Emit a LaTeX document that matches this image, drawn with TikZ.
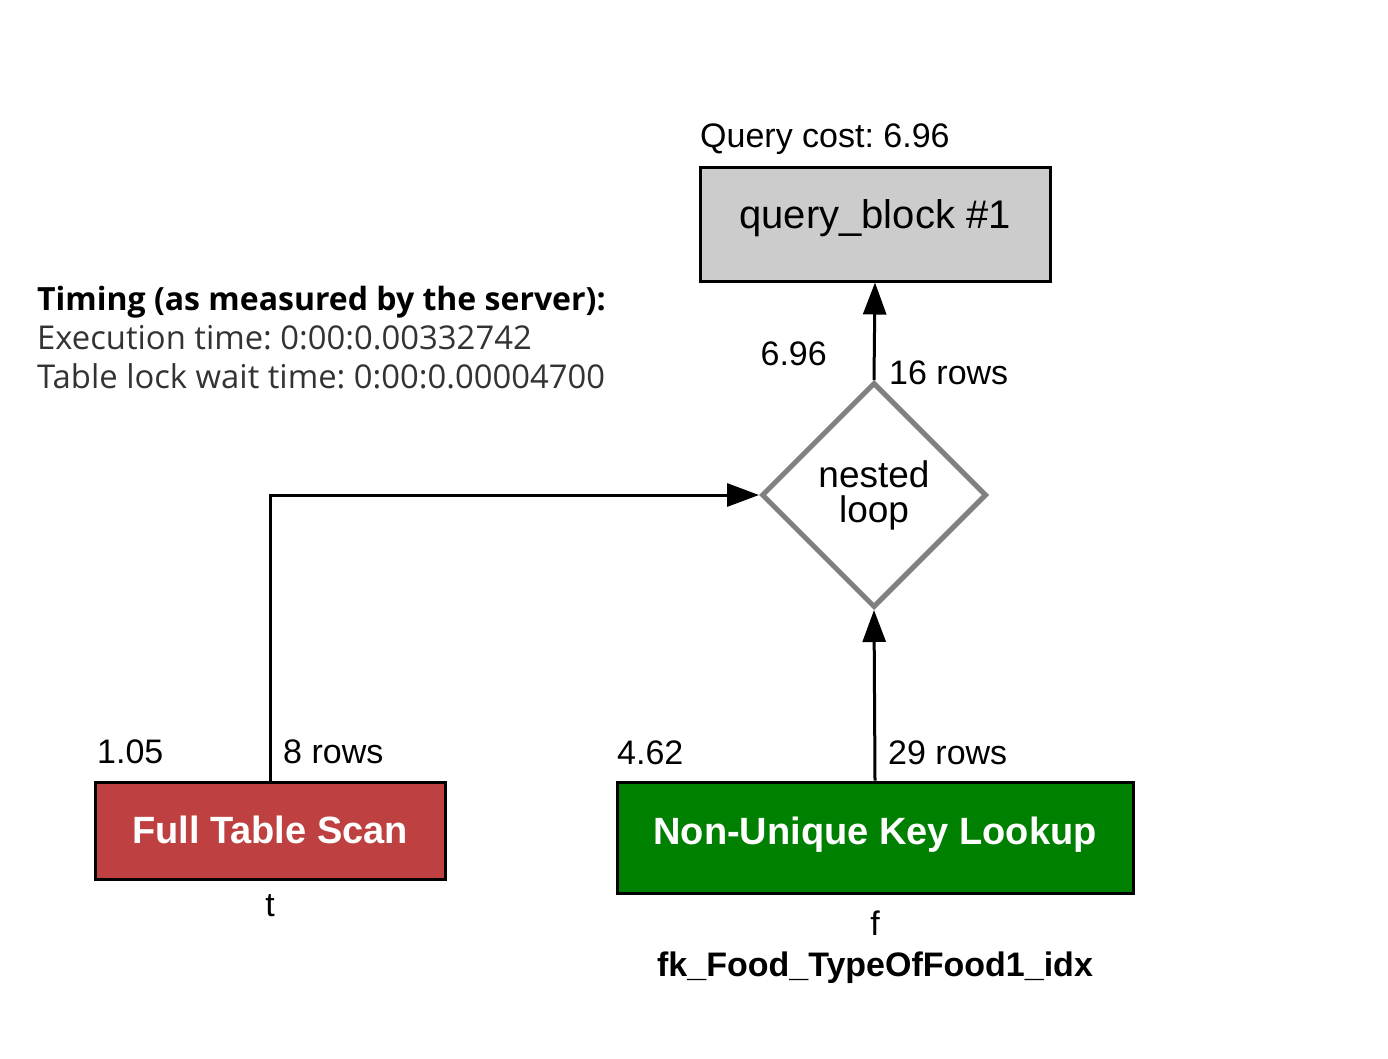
\documentclass[tikz,border=0pt]{standalone}
\usepackage{fontspec}
\setmainfont{Liberation Sans}
\newfontfamily\sysfont{Open Sans}
\usetikzlibrary{arrows.meta,shapes.geometric}
\frenchspacing
\definecolor{scanred}{RGB}{191,64,64}
\definecolor{lookgreen}{RGB}{0,128,0}
\definecolor{blockgray}{RGB}{204,204,204}
\definecolor{loopgray}{RGB}{128,128,128}
\definecolor{timegray}{RGB}{51,51,51}
\tikzset{
  lbl/.style={inner sep=0pt, anchor=base west, font=\fontsize{34}{40}\selectfont},
  sublbl/.style={inner sep=0pt, anchor=base, font=\fontsize{34}{40}\selectfont},
  opbox/.style={draw=black, line width=3pt, inner sep=0pt},
  conn/.style={draw=black, line width=3pt, -{Triangle[length=32pt,width=23pt]}},
  timebold/.style={inner sep=0pt, anchor=base west, font=\sysfont\bfseries\fontsize{32}{36}\selectfont, text=black},
  timereg/.style={inner sep=0pt, anchor=base west, font=\sysfont\fontsize{32.8}{36}\selectfont, text=timegray}
}
\begin{document}
\begin{tikzpicture}[x=1pt,y=-1pt]
\useasboundingbox[fill=white] (0,0) rectangle (1388,1058);

% query block
\node[opbox, fill=blockgray, minimum width=350pt, minimum height=114pt,
      text height=22pt, text depth=14pt, font=\fontsize{40}{44}\selectfont]
      (qb) at (875,224) {query\_block \#1};
\node[lbl] (qcost) at (700,147) {Query cost: 6.96};

% nested loop
\node[draw=loopgray, line width=5pt, shape=diamond, inner sep=0pt,
      minimum width=225pt, minimum height=225pt, align=center,
      font=\fontsize{37}{35}\selectfont] (nl) at (874,495) {nested\\loop};

% full table scan
\node[opbox, fill=scanred, minimum width=350pt, minimum height=97pt,
      text height=26pt, text depth=1pt, text=white,
      font=\bfseries\fontsize{38}{42}\selectfont]
      (fts) at (270,830.5) {Full Table Scan};
\node[sublbl] (ftst) at (270,916) {t};

% non-unique key lookup
\node[opbox, fill=lookgreen, minimum width=516pt, minimum height=111pt,
      text height=22pt, text depth=9pt, text=white,
      font=\bfseries\fontsize{38}{42}\selectfont]
      (nuk) at (875,837.5) {Non-Unique Key Lookup};
\node[sublbl] (nukt) at (875,935) {f};
\node[sublbl, font=\bfseries\fontsize{34}{40}\selectfont] (nuki) at (875,976) {fk\_Food\_TypeOfFood1\_idx};

% connectors
\draw[conn] (nl.north) -- (qb.south);
\draw[conn] (fts.north) |- (nl.west);
\draw[conn] (nuk.north) -- (nl.south);

% edge labels
\node[lbl, anchor=base east] (c1) at (827,365) {6.96};
\node[lbl] (r1) at (889,384) {16 rows};
\node[lbl] (c2) at (97,763) {1.05};
\node[lbl] (r2) at (283,763) {8 rows};
\node[lbl] (c3) at (617,764) {4.62};
\node[lbl] (r3) at (888,764) {29 rows};

% timing
\node[timebold] (tm1) at (37,310) {Timing (as measured by the server):};
\node[timereg] (tm2) at (37,349) {Execution time: 0:00:0.00332742};
\node[timereg] (tm3) at (37,388) {Table lock wait time: 0:00:0.00004700};
\end{tikzpicture}
\end{document}
